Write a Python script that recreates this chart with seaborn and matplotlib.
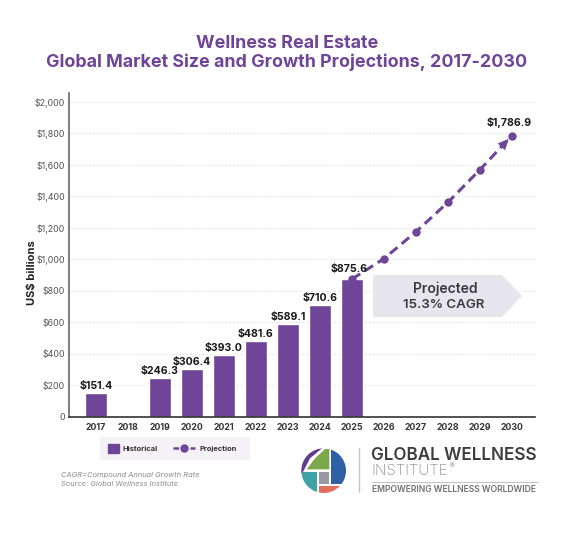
import numpy as np
import pandas as pd
import matplotlib
matplotlib.use('Agg')
import matplotlib.pyplot as plt
from matplotlib.patches import Polygon, Circle, Patch, Rectangle
from matplotlib.lines import Line2D
import seaborn as sns

# Values
years = list(range(2017, 2031))
hist_years = [2017, 2018, 2019, 2020, 2021, 2022, 2023, 2024, 2025]
hist_values = [151.4, np.nan, 246.3, 306.4, 393.0, 481.6, 589.1, 710.6, 875.6]
proj_years = [2025, 2026, 2027, 2028, 2029, 2030]
proj_values = [875.6, 1005, 1176, 1363, 1570, 1786.9]
bar_labels = ['$151.4', '', '$246.3', '$306.4', '$393.0', '$481.6', '$589.1', '$710.6', '$875.6']
y_ticks = [0, 200, 400, 600, 800, 1000, 1200, 1400, 1600, 1800, 2000]
y_labels = ['0', '$200', '$400', '$600', '$800', '$1,000', '$1,200', '$1,400', '$1,600', '$1,800', '$2,000']

PURPLE = '#6f4598'
W, H = 574, 534

sns.set_theme(style='white')
plt.rcParams['font.family'] = ['Inter', 'DejaVu Sans']

fig = plt.figure(figsize=(W / 100, H / 100), dpi=100, facecolor='white')
ax = fig.add_axes([69 / W, 1 - 417 / H, (535 - 69) / W, (417 - 93) / H])

hist = pd.DataFrame({'year': hist_years, 'value': hist_values})
proj = pd.DataFrame({'year': proj_years, 'value': proj_values})

sns.barplot(data=hist, x='year', y='value', native_scale=True, color=PURPLE,
            saturation=1, width=0.68, ax=ax, zorder=2)
sns.lineplot(data=proj, x='year', y='value', color=PURPLE, linewidth=2.2,
             dashes=(3.2, 1.8), marker='o', markersize=6, markeredgewidth=0,
             errorbar=None, ax=ax, zorder=3)

# arrow head just before the last point, along the last segment
slope = proj_values[-1] - proj_values[-2]
ax.annotate('', xy=(proj_years[-1] - 0.1, proj_values[-1] - 0.1 * slope),
            xytext=(proj_years[-1] - 0.6, proj_values[-1] - 0.6 * slope),
            arrowprops=dict(arrowstyle='-|>,head_width=0.3,head_length=0.65', color=PURPLE,
                            lw=0, shrinkA=0, shrinkB=0, mutation_scale=12), zorder=3)

ax.set_xlim(2016.16, 2030.72)
ax.set_ylim(0, 2057)
ax.set_xticks(years)
ax.set_xticklabels(years, fontsize=6.3, fontweight='bold', color='#333333')
ax.set_yticks(y_ticks)
ax.set_yticklabels(y_labels, fontsize=6.4, color='#555555')
ax.tick_params(axis='y', length=0, pad=3)
ax.tick_params(axis='x', length=0, pad=4)
ax.set_xlabel('')
ax.set_ylabel('US$ billions', fontsize=8, fontweight='bold', color='#222222')
ax.yaxis.set_label_coords(-0.069, 0.447)
ax.grid(axis='y', color='#e8e6ea', linestyle=(0, (2, 1.5)), linewidth=0.8, zorder=0)
ax.set_axisbelow(True)
sns.despine(ax=ax, top=True, right=True)
ax.spines['left'].set_color('#666666')
ax.spines['left'].set_linewidth(1.2)
ax.spines['bottom'].set_color('#333333')
ax.spines['bottom'].set_linewidth(1.2)

for yr, val, lab in zip(hist_years, hist_values, bar_labels):
    if lab == '$875.6':
        # sits up and left so the line start stays clear
        ax.text(yr - 0.1, val + 30, lab, ha='center', va='bottom', fontsize=7.6,
                fontweight='bold', color='#1a1a1a')
    elif lab:
        ax.text(yr, val + 12, lab, ha='center', va='bottom', fontsize=7.6,
                fontweight='bold', color='#1a1a1a')
ax.text(proj_years[-1] - 0.1, proj_values[-1] + 50, '$1,786.9', ha='center', va='bottom',
        fontsize=7.6, fontweight='bold', color='#1a1a1a')

# pixel-space overlay for title, callout, notes and logo
ov = fig.add_axes([0, 0, 1, 1], facecolor='none')
ov.set_xlim(0, W)
ov.set_ylim(H, 0)
ov.axis('off')

# legend: two parts because the handles have different widths
ov.add_patch(Rectangle((100, 437), 150, 23, facecolor='#f4f2f6', edgecolor='none'))
leg_opts = dict(loc='center left', prop={'size': 5.4, 'weight': 'bold'}, frameon=False,
                labelcolor='#333333', borderpad=0, borderaxespad=0)
fig.legend(handles=[Patch(color=PURPLE, label='Historical')],
           bbox_to_anchor=(108 / W, 1 - 448.5 / H), handlelength=1.4, handleheight=1.47,
           handletextpad=0.53, **leg_opts)
fig.legend(handles=[Line2D([0], [0], color=PURPLE, lw=1.8, ls=(0, (2.2, 1.2)), marker='o',
                           ms=5, label='Projection')],
           bbox_to_anchor=(173 / W, 1 - 448.5 / H), handlelength=2.93, handletextpad=0.67,
           **leg_opts)

ov.text(287, 43.5, 'Wellness Real Estate', ha='center', va='center', fontsize=12.9,
        fontweight='bold', color=PURPLE)
ov.text(287, 62.5, 'Global Market Size and Growth Projections, 2017-2030', ha='center', va='center',
        fontsize=12.9, fontweight='bold', color=PURPLE)

ov.add_patch(Polygon([(373, 275), (502, 275), (522, 296), (502, 317), (373, 317)],
                     closed=True, facecolor='#e6e6ec', edgecolor='none'))
ov.text(445, 289, 'Projected', ha='center', va='center', fontsize=10, fontweight='semibold', color='#3a3a40')
ov.text(444, 305, '15.3% CAGR', ha='center', va='center', fontsize=9.6, fontweight='semibold', color='#3a3a40')

ov.text(61, 475.5, 'CAGR=Compound Annual Growth Rate', ha='left', va='center', fontsize=5.4,
        style='italic', color='#8a8a8a')
ov.text(61, 484, 'Source: Global Wellness Institute', ha='left', va='center', fontsize=5.4,
        style='italic', color='#8a8a8a')

# logo
def logo_pt(x, y):
    return (290 + x / 3, 430 + y / 3)

logo_parts = [
    ('#5f3d8f', [(25, 145), (25, 45), (108, 45), (60, 85), (38, 128)]),
    ('#7ba84a', [(50, 118), (75, 85), (105, 57), (118, 57), (118, 118)]),
    ('#2f5fa5', [(123, 50), (175, 50), (175, 162), (123, 162)]),
    ('#3fa3a6', [(36, 125), (82, 125), (82, 192), (36, 192)]),
    ('#9a98a2', [(87, 125), (118, 125), (118, 162), (87, 162)]),
    ('#e0705a', [(87, 167), (160, 167), (160, 195), (87, 195)]),
]
for col, pts in logo_parts:
    clip = Circle(logo_pt(101, 122), 67 / 3, transform=ov.transData)
    poly = Polygon([logo_pt(*p) for p in pts], closed=True, facecolor=col, edgecolor='none')
    ov.add_patch(poly)
    poly.set_clip_path(clip)

ov.plot([359, 359], [448, 492], color='#c4c4c4', lw=1)
ov.plot([372, 538], [481.5, 481.5], color='#c4c4c4', lw=0.8)
ov.text(371, 455, 'GLOBAL WELLNESS', ha='left', va='center', fontsize=12.3, fontweight='semibold', color='#3d3d3d')
ov.text(371, 471, 'INSTITUTE', ha='left', va='center', fontsize=10.8, fontweight='light', color='#8c8c8c')
ov.text(450, 466, '®', ha='left', va='center', fontsize=5, color='#8c8c8c')
ov.text(372, 489.5, 'EMPOWERING WELLNESS WORLDWIDE', ha='left', va='center', fontsize=6.15,
        fontweight='semibold', color='#707070')

fig.savefig('out.png', dpi=100, facecolor='white')
